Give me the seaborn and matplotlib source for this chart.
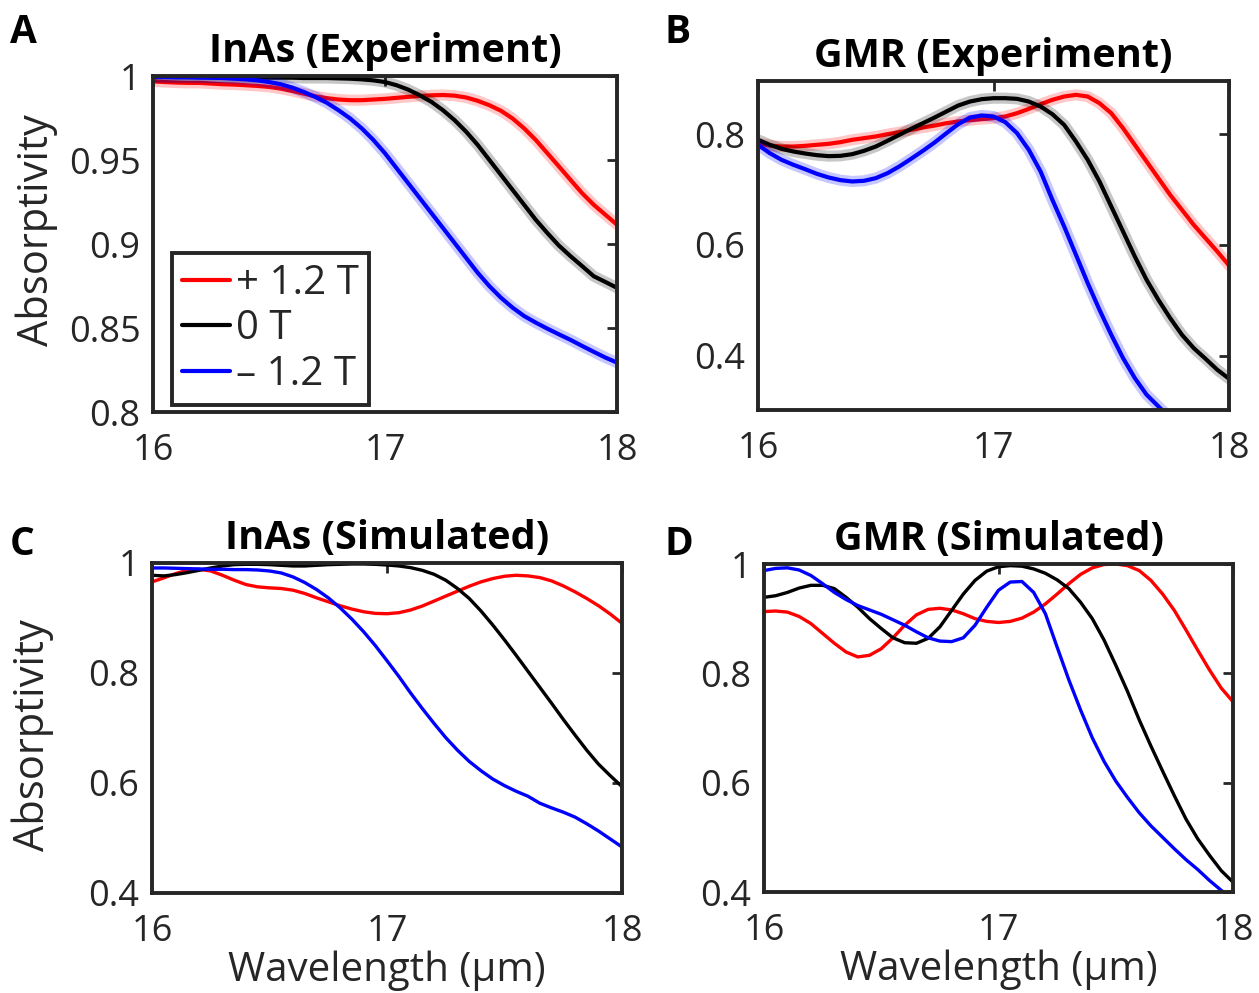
import matplotlib
matplotlib.use("Agg")
import numpy as np
import matplotlib.pyplot as plt
import seaborn as sns

# wavelength grid (um), 0.05 um steps
wl = [16.0, 16.05, 16.1, 16.15, 16.2, 16.25, 16.3, 16.35, 16.4, 16.45,
      16.5, 16.55, 16.6, 16.65, 16.7, 16.75, 16.8, 16.85, 16.9, 16.95,
      17.0, 17.05, 17.1, 17.15, 17.2, 17.25, 17.3, 17.35, 17.4, 17.45,
      17.5, 17.55, 17.6, 17.65, 17.7, 17.75, 17.8, 17.85, 17.9, 17.95, 18.0]

field_labels = ["+ 1.2 T", "0 T", "\u2013 1.2 T"]
field_colors = ["#ff0000", "#000000", "#0000ff"]

# A: InAs experiment
inas_exp_pos = [0.9968, 0.9964, 0.9961, 0.9959, 0.9959, 0.9955, 0.9951, 0.9949, 0.9945, 0.9941,
                0.9935, 0.9925, 0.9911, 0.9895, 0.9879, 0.9868, 0.986, 0.9856, 0.9856, 0.986,
                0.9864, 0.987, 0.9876, 0.9881, 0.9885, 0.9887, 0.9883, 0.9872, 0.9852, 0.9826,
                0.9793, 0.9747, 0.9688, 0.9619, 0.954, 0.9461, 0.9381, 0.9302, 0.9233, 0.9174, 0.9115]
inas_exp_zero = [0.9994, 0.9994, 0.9994, 0.9994, 0.9994, 0.9992, 0.9992, 0.9992, 0.9992, 0.999,
                 0.999, 0.999, 0.999, 0.9988, 0.9988, 0.9988, 0.9986, 0.9984, 0.998, 0.9974,
                 0.9964, 0.9945, 0.9919, 0.9885, 0.9846, 0.9796, 0.9737, 0.9668, 0.9589, 0.95,
                 0.9411, 0.9322, 0.9233, 0.9144, 0.9065, 0.899, 0.8927, 0.8868, 0.8808, 0.8774, 0.8739]
inas_exp_neg = [0.9994, 0.9994, 0.9992, 0.9992, 0.999, 0.999, 0.9988, 0.9984, 0.998, 0.9974,
                0.9964, 0.9951, 0.9931, 0.9905, 0.9875, 0.984, 0.9796, 0.9747, 0.9688, 0.9619,
                0.954, 0.9451, 0.9362, 0.9273, 0.9184, 0.9095, 0.9006, 0.8917, 0.8828, 0.8749,
                0.868, 0.8621, 0.8571, 0.8532, 0.8496, 0.8462, 0.8429, 0.8393, 0.8358, 0.8324, 0.8294]

# B: GMR experiment
gmr_exp_pos = [0.7838, 0.7795, 0.7777, 0.7777, 0.7789, 0.7808, 0.7826, 0.7856, 0.7898, 0.7928,
               0.7958, 0.8, 0.8036, 0.8078, 0.812, 0.8156, 0.8198, 0.8229, 0.8253, 0.8271,
               0.8289, 0.8319, 0.8379, 0.8457, 0.8541, 0.862, 0.868, 0.871, 0.868, 0.8559,
               0.8379, 0.8108, 0.7808, 0.7507, 0.7206, 0.6905, 0.6635, 0.6364, 0.6123, 0.5883, 0.563]
gmr_exp_zero = [0.7898, 0.7808, 0.7735, 0.7687, 0.7651, 0.7621, 0.7603, 0.7609, 0.7639, 0.7699,
                0.7777, 0.788, 0.7988, 0.8096, 0.8198, 0.8301, 0.8409, 0.8517, 0.8589, 0.8632,
                0.865, 0.865, 0.8638, 0.8589, 0.8499, 0.8361, 0.8168, 0.7868, 0.7537, 0.7146,
                0.6695, 0.6244, 0.5792, 0.5371, 0.501, 0.468, 0.4379, 0.4138, 0.3946, 0.3747, 0.3585]
gmr_exp_neg = [0.7808, 0.7657, 0.7537, 0.7447, 0.7368, 0.7284, 0.7218, 0.717, 0.7146, 0.7158,
               0.7206, 0.7296, 0.7417, 0.7555, 0.7699, 0.785, 0.8018, 0.818, 0.8301, 0.8337,
               0.8319, 0.8217, 0.8018, 0.7717, 0.7326, 0.6815, 0.6334, 0.5823, 0.5311, 0.483,
               0.4379, 0.3958, 0.3597, 0.3296, 0.3086, 0.2875, 0.267, np.nan, np.nan, np.nan, np.nan]

# C: InAs simulated
inas_sim_pos = [0.9657, 0.9729, 0.9807, 0.9867, 0.9886, 0.9855, 0.9777, 0.9687, 0.9608, 0.9566,
                0.9548, 0.9536, 0.9506, 0.9446, 0.9367, 0.9295, 0.9223, 0.9163, 0.9114, 0.9084,
                0.9078, 0.9096, 0.9145, 0.9217, 0.9307, 0.9398, 0.9488, 0.9578, 0.9657, 0.9717,
                0.9759, 0.9777, 0.9765, 0.9735, 0.9675, 0.9584, 0.9476, 0.9355, 0.9223, 0.9072, 0.8904]
inas_sim_zero = [0.9777, 0.9765, 0.9789, 0.9825, 0.9867, 0.991, 0.9946, 0.997, 0.9976, 0.9976,
                 0.997, 0.9958, 0.9946, 0.9946, 0.9958, 0.997, 0.9976, 0.9982, 0.9982, 0.9976,
                 0.9964, 0.9946, 0.9916, 0.9867, 0.9795, 0.9687, 0.9536, 0.9355, 0.9127, 0.8873,
                 0.8602, 0.8319, 0.803, 0.7741, 0.7452, 0.7157, 0.6873, 0.6596, 0.6343, 0.6133, 0.5934]
inas_sim_neg = [0.991, 0.991, 0.9904, 0.9898, 0.9892, 0.9886, 0.9886, 0.988, 0.988, 0.9873,
                0.9855, 0.9819, 0.9747, 0.9645, 0.9518, 0.9367, 0.9187, 0.8982, 0.8753, 0.85,
                0.8223, 0.794, 0.7639, 0.7355, 0.7084, 0.6825, 0.6596, 0.6392, 0.6223, 0.6072,
                0.5952, 0.5849, 0.5759, 0.5633, 0.5548, 0.547, 0.538, 0.5259, 0.5127, 0.4982, 0.4837]

# D: GMR simulated
gmr_sim_pos = [0.913, 0.914, 0.912, 0.904, 0.891, 0.873, 0.855, 0.839, 0.830, 0.833, 0.845,
               0.865, 0.888, 0.907, 0.917, 0.919, 0.916, 0.909, 0.900, 0.895, 0.893,
               0.895, 0.901, 0.912, 0.927, 0.945, 0.964, 0.981, 0.993, 0.999, 1.0,
               0.997, 0.988, 0.970, 0.945, 0.915, 0.879, 0.842, 0.806, 0.773, 0.748]
gmr_sim_zero = [0.939, 0.942, 0.948, 0.956, 0.961, 0.961, 0.955, 0.939, 0.921, 0.900, 0.882,
                0.865, 0.856, 0.855, 0.864, 0.885, 0.915, 0.945, 0.970, 0.987, 0.995,
                0.997, 0.996, 0.991, 0.983, 0.971, 0.955, 0.930, 0.900, 0.861, 0.815,
                0.767, 0.715, 0.667, 0.621, 0.576, 0.533, 0.497, 0.467, 0.439, 0.418]
gmr_sim_neg = [0.988, 0.992, 0.993, 0.989, 0.979, 0.964, 0.948, 0.935, 0.924, 0.916, 0.908,
               0.898, 0.888, 0.876, 0.865, 0.859, 0.858, 0.865, 0.888, 0.921, 0.952,
               0.967, 0.968, 0.948, 0.909, 0.848, 0.788, 0.733, 0.682, 0.639, 0.603,
               0.573, 0.545, 0.521, 0.500, 0.479, 0.459, 0.441, 0.421, 0.403, 0.385]

INK = "#262626"

sns.set_theme(style="white")
plt.rcParams['font.family'] = ['Open Sans', 'DejaVu Sans']

fig = plt.figure(figsize=(12.59, 9.93), dpi=100)
W, H = 1259, 993


def add_axes(left, top, right, bottom):
    return fig.add_axes([left / W, 1 - bottom / H, (right - left) / W, (bottom - top) / H])


axA = add_axes(153, 76, 617, 412)
axB = add_axes(758, 81, 1229, 410)
axC = add_axes(152, 563, 622, 893)
axD = add_axes(764, 564, 1233, 892)


def draw_exp(ax, series, labels=None):
    for i, (vals, c) in enumerate(zip(series, field_colors)):
        # faint band standing in for the raw measurement points
        sns.lineplot(x=wl, y=vals, color=c, lw=8, alpha=0.22, ax=ax)
        lab = labels[i] if labels else None
        sns.lineplot(x=wl, y=vals, color=c, lw=3, ax=ax, label=lab)


def draw_sim(ax, series):
    for vals, c in zip(series, field_colors):
        sns.lineplot(x=wl, y=vals, color=c, lw=2.4, ax=ax)


def style_axes(ax, title, yticks, ylim):
    ax.set_xlim(16, 18)
    ax.set_ylim(*ylim)
    ax.set_xticks([16, 17, 18])
    ax.set_xticklabels(["16", "17", "18"])
    ax.set_yticks(yticks)
    ax.set_yticklabels([f"{t:g}" for t in yticks])
    ax.tick_params(direction="in", length=7, width=2, top=True, right=True,
                   labelsize=26, colors=INK)
    ax.tick_params(axis="x", pad=15)
    ax.tick_params(axis="y", pad=9)
    for s in ax.spines.values():
        s.set_visible(True)
        s.set_linewidth(2.8)
        s.set_color(INK)
        s.set_zorder(5)
    ax.set_xlabel("")
    ax.set_ylabel("")
    ax.set_title(title, fontsize=28.5, fontweight="bold", pad=10, color="black")


draw_exp(axA, [inas_exp_pos, inas_exp_zero, inas_exp_neg], field_labels)
draw_exp(axB, [gmr_exp_pos, gmr_exp_zero, gmr_exp_neg])
draw_sim(axC, [inas_sim_pos, inas_sim_zero, inas_sim_neg])
draw_sim(axD, [gmr_sim_pos, gmr_sim_zero, gmr_sim_neg])

style_axes(axA, "InAs (Experiment)", [0.8, 0.85, 0.9, 0.95, 1.0], (0.8, 1.0))
style_axes(axB, "GMR (Experiment)", [0.4, 0.6, 0.8], (0.302, 0.896))
style_axes(axC, "InAs (Simulated)", [0.4, 0.6, 0.8, 1.0], (0.4, 1.0))
style_axes(axD, "GMR (Simulated)", [0.4, 0.6, 0.8, 1.0], (0.4, 1.0))

leg = axA.legend(loc="upper left", bbox_to_anchor=(0.041, 0.472), borderaxespad=0,
                 fontsize=29, handlelength=1.2, handletextpad=0.15, labelspacing=0.12,
                 borderpad=0.25, frameon=True, fancybox=False, edgecolor=INK, framealpha=1)
leg.get_frame().set_linewidth(2.8)

# axis labels
for ax in (axA, axC):
    ax.set_ylabel("Absorptivity", fontsize=30, color=INK)
axA.yaxis.set_label_coords(-0.205, 0.54)
axC.yaxis.set_label_coords(-0.209, 0.48)
for ax in (axC, axD):
    ax.set_xlabel("Wavelength (\u00b5m)", fontsize=29, color=INK)
    ax.xaxis.set_label_coords(0.5, -0.175)

# panel letters
for x, y, letter in [(10, 43, "A"), (665, 43, "B"), (10, 555, "C"), (665, 555, "D")]:
    fig.text(x / W, 1 - y / H, letter, fontsize=28, fontweight="bold",
             ha="left", va="baseline", color="black")

fig.savefig("out.png", dpi=100, facecolor="white")
